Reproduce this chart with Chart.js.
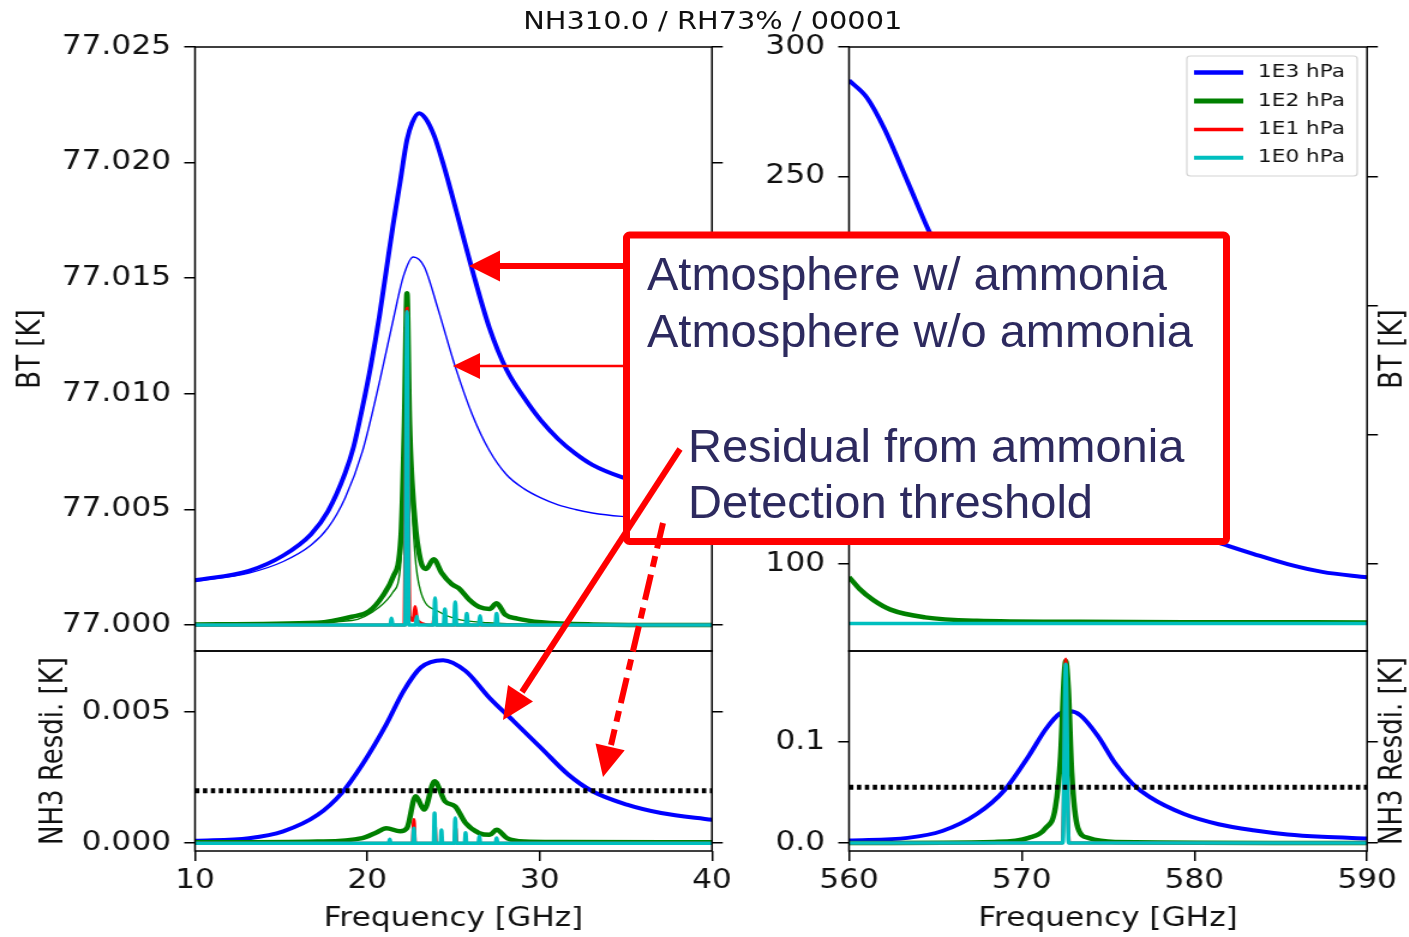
<!DOCTYPE html>
<html>
<head>
<meta charset="utf-8">
<script src="https://cdn.jsdelivr.net/npm/chart.js@4.4.1/dist/chart.umd.min.js"></script>
<style>
body { margin: 0; background: #fff; width: 1409px; height: 937px; overflow: hidden; position: relative; }
#stage { position: absolute; left: 0; top: 0; width: 1180px; height: 937px; transform: scaleX(1.2); transform-origin: 0 0; }
#stage canvas { position: absolute; }
#title { position: absolute; left: 394px; top: 7px; width: 400px; text-align: center;
         font: 24px 'DejaVu Sans'; line-height: 28px; color: #111; white-space: nowrap; }
#notes { position: absolute; left: 0; top: 0; }
</style>
</head>
<body>
<div id="stage">
  <div id="title">NH310.0 / RH73% / 00001</div>
  <canvas id="cTL" width="640" height="660" style="left:0;top:0"></canvas>
  <canvas id="cBL" width="640" height="297" style="left:0;top:640px"></canvas>
  <canvas id="cTR" width="580" height="660" style="left:600px;top:0"></canvas>
  <canvas id="cBR" width="580" height="297" style="left:600px;top:640px"></canvas>
</div>
<svg id="notes" width="1409" height="937">
  <rect x="626.5" y="235" width="600" height="306.5" rx="3" fill="#fff" stroke="#f00" stroke-width="7"/>
  <g font-family="Liberation Sans, Arial, sans-serif" font-size="47" fill="#2d2a5f">
    <text x="647" y="290">Atmosphere w/ ammonia</text>
    <text x="647" y="347">Atmosphere w/o ammonia</text>
    <text x="688" y="462">Residual from ammonia</text>
    <text x="688" y="518">Detection threshold</text>
  </g>
  <line x1="624" y1="266" x2="496" y2="266" stroke="#f00" stroke-width="6"/>
  <polygon points="469,266 500,250.5 500,281.5" fill="#f00"/>
  <line x1="624" y1="366" x2="476" y2="366" stroke="#f00" stroke-width="2.5"/>
  <polygon points="453,366 480,353 480,379" fill="#f00"/>
  <line x1="680" y1="449" x2="522" y2="692" stroke="#f00" stroke-width="6"/>
  <polygon points="503,720 533,701.4 508,685" fill="#f00"/>
  <line x1="663" y1="523" x2="611" y2="745" stroke="#f00" stroke-width="6" stroke-dasharray="26 8 11 8"/>
  <polygon points="603,777 624.7,750.3 595.5,743.4" fill="#f00"/>
</svg>
<script>
// tick labels
const lowTicksX = [10, 20, 30, 40]
const highTicksX = [560, 570, 580, 590]
const lowTicksBT = [77.000, 77.005, 77.010, 77.015, 77.020, 77.025]
const lowTicksRes = [0.000, 0.005]
const highTicksBT = [100, 150, 200, 250, 300]
const highTicksRes = [0.0, 0.1]

// pressure levels (legend)
const pressureLabels = ['1E3 hPa', '1E2 hPa', '1E1 hPa', '1E0 hPa']
const pressureColors = ['#0000ff', '#008000', '#ff0000', '#00bfbf']

// ---- 10-40 GHz, BT with / without ammonia ----
const e3WithX = [10, 13.13, 15.12, 16.72, 17.71, 18.71, 19.21, 19.71, 20.2, 20.7, 21.1, 21.5, 21.9, 22.3, 22.6, 23.0, 23.4, 23.89, 24.39, 24.89, 25.49, 26.09, 27.08, 28.08, 29.08, 30.07, 31.07, 32.07, 33.06, 34.76, 36.5, 38.2, 40]
const e3WithBT = [77.00194, 77.00235, 77.00301, 77.00392, 77.00492, 77.00657, 77.00773, 77.00939, 77.01121, 77.01336, 77.01535, 77.01733, 77.01915, 77.02098, 77.02172, 77.02214, 77.02189, 77.02114, 77.01998, 77.01866, 77.01700, 77.01535, 77.01286, 77.01104, 77.00985, 77.00885, 77.00805, 77.00742, 77.00693, 77.00640, 77.00605, 77.00580, 77.00560]
const e3WithoutX = [10, 13.13, 15.12, 16.72, 17.71, 18.71, 19.71, 20.7, 21.5, 22.1, 22.66, 23.3, 24.09, 25.09, 26.09, 27.08, 28.08, 29.08, 30.07, 31.07, 32.07, 33.06, 34.76, 37, 40]
const e3WithoutBT = [77.00188, 77.00225, 77.00275, 77.00345, 77.00420, 77.00550, 77.00750, 77.01050, 77.01320, 77.01510, 77.01592, 77.01550, 77.01370, 77.01120, 77.00910, 77.00755, 77.00650, 77.00590, 77.00550, 77.00520, 77.00500, 77.00485, 77.00470, 77.00460, 77.00450]

const e2WithX = [10, 17.1, 19.1, 20.1, 20.9, 21.5, 21.95, 22.15, 22.3, 22.45, 22.75, 23.1, 23.4, 23.85, 24.3, 24.9, 25.3, 25.9, 26.5, 27.1, 27.5, 28.0, 28.7, 30.1, 33.1, 40]
const e2WithBT = [77.00003, 77.0001, 77.00036, 77.0006, 77.00127, 77.0021, 77.0038, 77.0087, 77.01435, 77.0087, 77.0046, 77.00276, 77.00243, 77.00285, 77.00227, 77.00177, 77.0016, 77.00111, 77.00078, 77.0007, 77.00094, 77.00045, 77.00028, 77.00012, 77.00003, 77.0]
const e2WithoutX = [10, 19.1, 20.7, 21.5, 21.95, 22.15, 22.3, 22.45, 22.75, 23.1, 24.1, 25.1, 27, 30, 40]
const e2WithoutBT = [77.0, 77.0002, 77.00078, 77.00144, 77.0028, 77.0078, 77.014, 77.0078, 77.0032, 77.00144, 77.0006, 77.00028, 77.0001, 77.00003, 77.0]

const e1WithX = [10, 22.15, 22.22, 22.3, 22.38, 22.45, 22.65, 22.77, 22.9, 23.8, 23.9, 24.0, 40]
const e1WithBT = [77.0, 77.0, 77.006, 77.0137, 77.006, 77.0004, 77.0002, 77.0008, 77.0002, 77.0, 77.0004, 77.0, 77.0]
const e1WithoutX = [10, 22.18, 22.3, 22.42, 40]
const e1WithoutBT = [77.0, 77.0, 77.0135, 77.0, 77.0]

const e0WithX = [10, 21.33, 21.4, 21.47, 22.2, 22.3, 22.4, 22.8, 22.87, 22.94, 23.86, 23.93, 24.0, 24.43, 24.5, 24.57, 25.03, 25.1, 25.17, 25.7, 25.77, 25.84, 26.47, 26.54, 26.61, 27.43, 27.5, 27.57, 40]
const e0WithBT = [77.0, 77.0, 77.0003, 77.0, 77.0, 77.01355, 77.0, 77.0, 77.00037, 77.0, 77.0, 77.00117, 77.0, 77.0, 77.0007, 77.0, 77.0, 77.001, 77.0, 77.0, 77.0005, 77.0, 77.0, 77.0004, 77.0, 77.0, 77.0005, 77.0, 77.0]
const e0WithoutX = [10, 22.22, 22.3, 22.38, 40]
const e0WithoutBT = [77.0, 77.0, 77.0134, 77.0, 77.0]

// ---- 10-40 GHz, NH3 residual ----
const resE3X = [10, 13.13, 15.12, 17.12, 18.51, 19.71, 21.1, 22.1, 23.1, 24.39, 25.69, 27.08, 28.48, 30.07, 31.67, 33.06, 35.06, 37.05, 40]
const resE3 = [0.00009, 0.00019, 0.00045, 0.00108, 0.00191, 0.003, 0.00453, 0.0058, 0.0067, 0.00698, 0.00657, 0.00555, 0.00466, 0.00364, 0.00261, 0.00198, 0.00147, 0.00115, 0.00089]
const resE2X = [10, 17.1, 19.7, 20.5, 21.1, 21.9, 22.3, 22.8, 23.3, 23.9, 24.5, 25.1, 25.7, 26.5, 27.1, 27.5, 28.1, 29.1, 31.1, 40]
const resE2 = [0.00003, 0.00006, 0.00019, 0.0004, 0.00057, 0.00045, 0.00057, 0.00179, 0.00128, 0.00236, 0.0016, 0.0014, 0.00077, 0.00038, 0.00032, 0.00051, 0.00019, 0.00006, 0.00004, 0.00003]
const resE1X = [10, 22.62, 22.7, 22.78, 23.85, 23.92, 23.99, 25.05, 25.12, 25.19, 40]
const resE1 = [0, 0, 0.0009, 0, 0, 0.0007, 0, 0, 0.0006, 0, 0]
const resE0X = [10, 21.25, 21.3, 21.35, 22.65, 22.7, 22.75, 23.85, 23.9, 23.95, 24.25, 24.3, 24.35, 25.05, 25.1, 25.15, 25.65, 25.7, 25.75, 26.45, 26.5, 26.55, 27.45, 27.5, 27.55, 40]
const resE0 = [0, 0, 0.00015, 0, 0, 0.00057, 0, 0, 0.00115, 0, 0, 0.0005, 0, 0, 0.00096, 0, 0, 0.0004, 0, 0, 0.00026, 0, 0, 0.0002, 0, 0]
const thresholdLow = 0.002

// ---- 560-590 GHz, BT ----
const hiE3X = [560, 561.04, 562.04, 563.4, 564.6, 566, 568, 570, 572, 575, 578, 580, 582, 583.4, 585.4, 587.4, 590]
const hiE3BT = [287.1, 280.4, 268.5, 247.8, 229.2, 210, 183, 160, 143, 128, 117, 111.5, 107, 104, 100, 97, 94.9]
const hiE2X = [560, 560.6, 561.4, 562.4, 564.4, 567.4, 573.4, 579.4, 590]
const hiE2BT = [95, 90.5, 86.1, 82.4, 79.4, 78.1, 77.7, 77.55, 77.45]
const hiE1X = [560, 590]
const hiE1BT = [77.0, 77.0]
const hiE0X = [560, 590]
const hiE0BT = [77.0, 77.0]

// ---- 560-590 GHz, NH3 residual ----
const resHiE3X = [560, 563.4, 565.4, 567.4, 569.0, 570.4, 571.4, 572.2, 572.8, 573.4, 574.4, 575.4, 576.4, 577.4, 579.4, 581.4, 583.4, 585.4, 587.4, 590]
const resHiE3 = [0.0024, 0.005, 0.0118, 0.0286, 0.0522, 0.0859, 0.1128, 0.128, 0.1303, 0.1263, 0.1061, 0.0791, 0.0589, 0.0455, 0.0286, 0.0185, 0.0125, 0.0084, 0.0061, 0.0044]
const resHiE2X = [560, 568.4, 570.4, 571.4, 571.95, 572.25, 572.45, 572.55, 572.7, 572.9, 573.25, 573.85, 575.4, 590]
const resHiE2 = [0, 0.001, 0.005, 0.015, 0.035, 0.086, 0.163, 0.18, 0.153, 0.069, 0.015, 0.005, 0.001, 0]
const resHiE1X = [560, 572.35, 572.45, 572.55, 572.65, 572.75, 590]
const resHiE1 = [0, 0, 0.06, 0.182, 0.06, 0, 0]
const resHiE0X = [560, 572.38, 572.55, 572.72, 590]
const resHiE0 = [0, 0, 0.177, 0, 0]
const thresholdHigh = 0.055

const thickWidth = [4, 4.5, 3, 3.5]
const thinWidth = [1.4, 1.4, 1.2, 1.2]

Chart.defaults.font.family = "'DejaVu Sans'"
Chart.defaults.color = '#111'

function pts(xs, ys) {
    return xs.map((x, i) => ({x: x, y: ys[i]}))
}

function line(xs, ys, k, thin) {
    return {
        data: pts(xs, ys),
        borderColor: pressureColors[k],
        borderWidth: thin ? thinWidth[k] : thickWidth[k],
        order: 4 - k + (thin ? 0 : 0.5),
        cubicInterpolationMode: 'monotone',
        pointRadius: 0,
        fill: false,
    }
}

function threshold(xr, v) {
    return {
        data: pts(xr, [v, v]),
        borderColor: '#000',
        borderWidth: 5,
        borderDash: [3.6, 3.0],
        order: 0,
        pointRadius: 0,
        fill: false,
    }
}

// black box round the plot area, like matplotlib spines
const framePlugin = {
    id: 'frame',
    afterDraw(chart) {
        const a = chart.chartArea, ctx = chart.ctx
        ctx.save()
        ctx.strokeStyle = '#000'
        ctx.lineWidth = 1.5
        ctx.strokeRect(a.left, a.top, a.right - a.left, a.bottom - a.top)
        ctx.restore()
    }
}

// y label on the right side, reading bottom to top
const sideLabelPlugin = {
    id: 'sideLabel',
    afterDraw(chart, args, opts) {
        if (!opts.text) return
        const a = chart.chartArea, ctx = chart.ctx
        ctx.save()
        ctx.translate(a.right + 22.3, (a.top + a.bottom) / 2)
        ctx.rotate(-Math.PI / 2)
        ctx.font = "26px 'DejaVu Sans'"
        ctx.fillStyle = '#111'
        ctx.textAlign = 'center'
        ctx.textBaseline = 'middle'
        ctx.fillText(opts.text, 0, 0)
        ctx.restore()
    }
}

const legendPlugin = {
    id: 'pressLegend',
    afterDraw(chart, args, opts) {
        if (!opts.show) return
        const ctx = chart.ctx
        ctx.save()
        ctx.fillStyle = 'rgba(255,255,255,0.85)'
        ctx.strokeStyle = '#d4d4d4'
        ctx.lineWidth = 1.2
        ctx.beginPath()
        ctx.roundRect(389, 56, 142, 120, 3)
        ctx.fill()
        ctx.stroke()
        ctx.font = "18px 'DejaVu Sans'"
        ctx.textBaseline = 'middle'
        pressureLabels.forEach((lab, k) => {
            const y = 72.6 + k * 28.4
            ctx.strokeStyle = pressureColors[k]
            ctx.lineWidth = thickWidth[k] + 0.5
            ctx.beginPath()
            ctx.moveTo(395, y)
            ctx.lineTo(436, y)
            ctx.stroke()
            ctx.fillStyle = '#111'
            ctx.fillText(lab, 448.3, y)
        })
        ctx.restore()
    }
}

function fixTicks(values) {
    return function(scale) { scale.ticks = values.map((v) => ({value: v})) }
}

function noPad(scale) {
    scale.paddingTop = 0; scale.paddingBottom = 0
    scale.paddingLeft = 0; scale.paddingRight = 0
}

function drawPanel(id, p) {
    const tickGrid = {drawOnChartArea: false, drawTicks: true, color: '#000', lineWidth: 1.5}
    const scales = {
        x: {
            type: 'linear', min: p.xMin, max: p.xMax,
            display: p.showX,
            afterBuildTicks: fixTicks(p.xTicks),
            afterFit: (s) => { noPad(s); s.height = p.showX ? 86 : 0 },
            grid: Object.assign({tickLength: 10}, tickGrid),
            border: {display: false},
            ticks: {font: {size: 26}, padding: 5, maxRotation: 0},
            title: {display: true, text: 'Frequency [GHz]', font: {size: 26}, padding: {top: 0, bottom: 2.4}},
        },
        y: {
            type: 'linear', min: p.yMin, max: p.yMax,
            afterBuildTicks: fixTicks(p.yTicks),
            afterFit: (s) => { noPad(s); s.width = p.leftWidth },
            grid: Object.assign({tickLength: 9}, tickGrid),
            border: {display: false},
            ticks: {font: {size: 26}, padding: 11, callback: (v) => v.toFixed(p.dec)},
            title: {display: !!p.yTitle, text: p.yTitle || '', font: {size: 26}, padding: {top: p.titlePad || 0, bottom: 0}},
        },
        y2: {
            type: 'linear', position: 'right', min: p.yMin, max: p.yMax,
            afterBuildTicks: fixTicks(p.yTicks),
            afterFit: (s) => { noPad(s); s.width = 9 },
            grid: Object.assign({tickLength: 9}, tickGrid),
            border: {display: false},
            ticks: {display: false},
        },
    }
    return new Chart(document.getElementById(id), {
        type: 'line',
        data: {datasets: p.datasets},
        options: {
            responsive: false,
            animation: false,
            devicePixelRatio: 1,
            layout: {padding: p.padding},
            scales: scales,
            plugins: {
                legend: {display: false},
                tooltip: {enabled: false},
                sideLabel: {text: p.sideLabel},
                pressLegend: {show: !!p.legend},
            },
        },
        plugins: [framePlugin, sideLabelPlugin, legendPlugin],
    })
}

drawPanel('cTL', {
    xMin: 10, xMax: 40, xTicks: lowTicksX, showX: false,
    yMin: 76.99888, yMax: 77.025, yTicks: lowTicksBT, dec: 3,
    yTitle: 'BT [K]', titlePad: 10.2, leftWidth: 162.5,
    padding: {left: 0, right: 37.7, top: 47, bottom: 9},
    datasets: [
        line(e3WithX, e3WithBT, 0, false), line(e3WithoutX, e3WithoutBT, 0, true),
        line(e2WithX, e2WithBT, 1, false), line(e2WithoutX, e2WithoutBT, 1, true),
        line(e1WithX, e1WithBT, 2, false), line(e1WithoutX, e1WithoutBT, 2, true),
        line(e0WithX, e0WithBT, 3, false), line(e0WithoutX, e0WithoutBT, 3, true),
    ],
})

drawPanel('cBL', {
    xMin: 10, xMax: 40, xTicks: lowTicksX, showX: true,
    yMin: -0.0003, yMax: 0.00733, yTicks: lowTicksRes, dec: 3,
    yTitle: 'NH3 Resdi. [K]', titlePad: 29.4, leftWidth: 162.5,
    padding: {left: 0, right: 37.7, top: 11, bottom: 0},
    datasets: [
        line(resE3X, resE3, 0, false), line(resE2X, resE2, 1, false),
        line(resE1X, resE1, 2, false), line(resE0X, resE0, 3, false),
        threshold([10, 40], thresholdLow),
    ],
})

drawPanel('cTR', {
    xMin: 560, xMax: 590, xTicks: highTicksX, showX: false,
    yMin: 66.4, yMax: 300, yTicks: highTicksBT, dec: 0,
    leftWidth: 107.5, sideLabel: 'BT [K]', legend: true,
    padding: {left: 0, right: 31.8, top: 47, bottom: 9},
    datasets: [
        line(hiE3X, hiE3BT, 0, false), line(hiE2X, hiE2BT, 1, false),
        line(hiE1X, hiE1BT, 2, false), line(hiE0X, hiE0BT, 3, false),
    ],
})

drawPanel('cBR', {
    xMin: 560, xMax: 590, xTicks: highTicksX, showX: true,
    yMin: -0.008, yMax: 0.19, yTicks: highTicksRes, dec: 1,
    leftWidth: 107.5, sideLabel: 'NH3 Resdi. [K]',
    padding: {left: 0, right: 31.8, top: 11, bottom: 0},
    datasets: [
        line(resHiE3X, resHiE3, 0, false), line(resHiE2X, resHiE2, 1, false),
        line(resHiE1X, resHiE1, 2, false), line(resHiE0X, resHiE0, 3, false),
        threshold([560, 590], thresholdHigh),
    ],
})
</script>
</body>
</html>
